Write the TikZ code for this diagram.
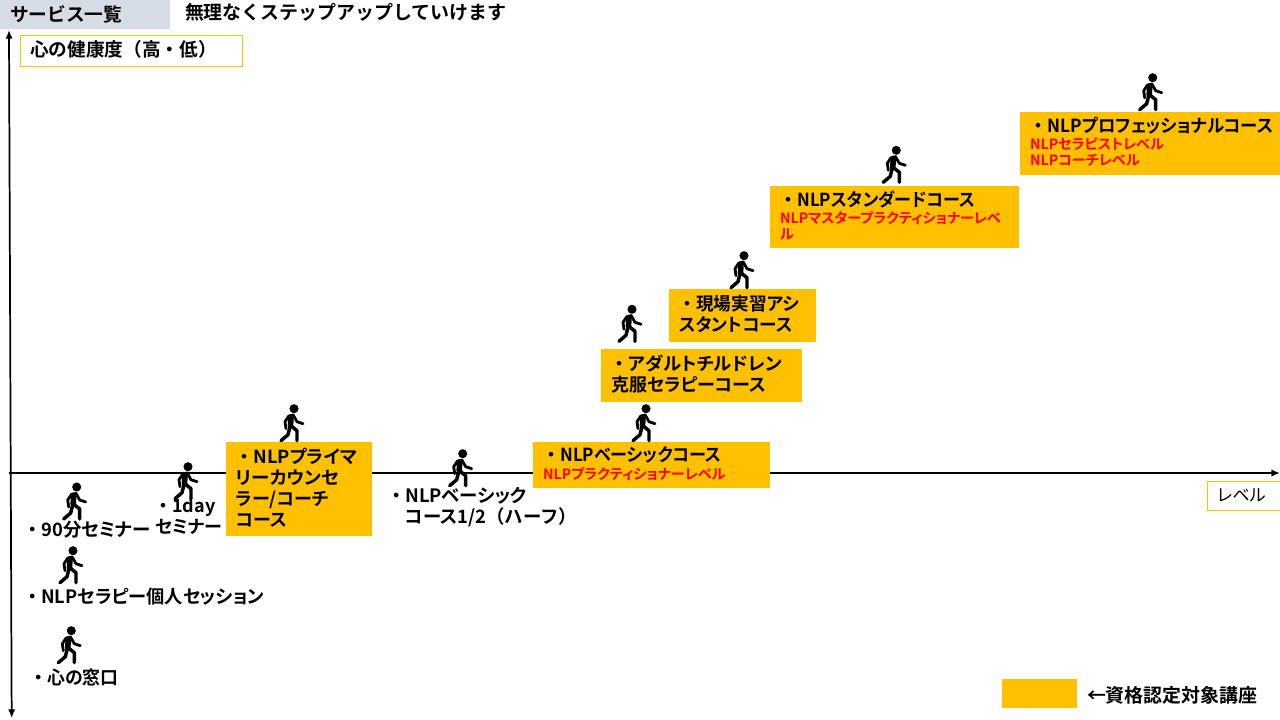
\documentclass[tikz,border=0pt]{standalone}
\usepackage{graphicx}
\usepackage{fontspec}
\usetikzlibrary{arrows.meta}
\setmainfont{Noto Sans CJK JP}[BoldFont=* Bold,RawFeature={+palt}]
\newfontfamily\plainjp{Noto Sans CJK JP}[RawFeature={+palt}]
\newfontfamily\fullw{Noto Sans CJK JP}[BoldFont=* Bold]
\definecolor{gold}{HTML}{FFC000}
\definecolor{slate}{HTML}{D6DCE5}
\newcommand{\nakaten}{\makebox[13pt][c]{・}}
\newcommand{\redline}[1]{{\fontsize{10.6}{12}\selectfont\color{red}#1}}
\newcommand{\squeezed}[2]{\scalebox{#1}[1]{#2}}
\tikzset{
  x=0.75pt,y=-0.75pt,
  body/.style={font=\fontsize{13.5}{15.8}\selectfont\bfseries,inner sep=0pt,outer sep=0pt,align=left,anchor=north west},
  widebody/.style={body,font=\fontsize{13.8}{15.8}\selectfont\bfseries},
  headbody/.style={body,font=\fontsize{14}{16}\selectfont\fullw\bfseries},
  largebody/.style={body,font=\fontsize{14.2}{16}\selectfont\fullw\bfseries},
  coursebox/.style n args={2}{body,fill=gold,anchor=north west,minimum width=#1*0.75pt,minimum height=#2*0.75pt,text width=#1*0.75pt-15pt,inner xsep=7.5pt,execute at end node={\par\vspace*{2pt}}},
  framebox/.style n args={2}{draw=gold,line width=0.75pt,fill=white,minimum width=#1*0.75pt,minimum height=#2*0.75pt,anchor=north west,inner sep=0pt,outer sep=0pt},
  walker/.pic={
    \fill (0,1) circle (3.4pt);
    \draw[line width=2.1pt,line cap=round,line join=round] (-1,7) -- (3,14) -- (9,16);
    \draw[line width=2.1pt,line cap=round,line join=round] (-5,8) -- (-9,14) -- (-8,21);
    \draw[line width=4.2pt,line cap=round] (-3,9) -- (-3.5,18);
    \draw[line width=2.6pt,line cap=round,line join=round] (-4,19) -- (-6,27) -- (-13,33);
    \draw[line width=2.6pt,line cap=round,line join=round] (-2,19) -- (3,23) -- (3,33);
  }
}
\begin{document}
\begin{tikzpicture}
\useasboundingbox (0,0) rectangle (1280,720);
% axes
\coordinate (ytop) at (9,30);
\coordinate (ybot) at (11.7,718);
\coordinate (xleft) at (9,473);
\coordinate (xright) at (1280,473);
\draw[line width=1.3pt,{Latex[length=6.5pt,width=5.5pt]}-{Latex[length=6.5pt,width=5.5pt]}] (ytop) -- (ybot);
\draw[line width=1.5pt,-{Latex[length=6.5pt,width=5.5pt]}] (xleft) -- (xright);
% header
\node[headbody,fill=slate,minimum width=127.5pt,minimum height=21.75pt,text width=112.5pt,inner xsep=7.5pt,anchor=north west] (title) at (0,0) {サービス一覧};
\node[largebody,anchor=west] (subtitle) at (185,12) {無理なくステップアップしていけます};
\node[framebox={222}{31.5}] (ylabel) at (20.5,35.5) {};
\node[headbody,anchor=west] (ylabeltext) at (30,49) {心の健康度（高・低）};
\node[framebox={73}{29.5}] (xlabel) at (1207.5,481.3) {};
\node[inner sep=0pt,anchor=west,font=\fontsize{12.8}{15.8}\selectfont\plainjp] (xlabeltext) at (1217,495) {レベル};
% plain labels
\node[widebody,anchor=west] (s90) at (24,530) {\nakaten 90分セミナー};
\node[body] (s1day) at (155,498) {\nakaten 1day\\セミナー};
\node[widebody,anchor=west] (sind) at (24,597) {\nakaten \squeezed{0.99}{NLPセラピー個人セッション}};
\node[widebody,anchor=west] (swin) at (30,677) {\nakaten \squeezed{0.97}{心の窓口}};
\node[widebody] (shalf) at (388,487) {\nakaten NLPベーシック\\\hspace*{13pt}コース1/2{\fullw（ハーフ）}};
% courses
\node[coursebox={146}{94}] (primary) at (226,442) {\nakaten \squeezed{1.02}{NLPプライマ}\\\squeezed{1.03}{リーカウンセ}\\ラー/コーチ\\コース};
\node[coursebox={237}{46}] (basic) at (533,442) {\nakaten \squeezed{0.947}{NLPベーシックコース}\\[-3pt]\redline{NLPプラクティショナーレベル}};
\node[coursebox={201}{53}] (adult) at (601,349) {\nakaten \squeezed{1.02}{アダルトチルドレン}\\\squeezed{1.0}{克服セラピーコース}};
\node[coursebox={147}{53}] (genba) at (669,289) {\nakaten \squeezed{0.98}{現場実習アシ}\\\squeezed{0.98}{スタントコース}};
\node[coursebox={249}{62}] (standard) at (770,186) {\nakaten \squeezed{0.947}{NLPスタンダードコース}\\[-3pt]\redline{NLPマスタープラクティショナーレベ}\\[-3.8pt]\redline{ル}};
\node[coursebox={260}{63}] (pro) at (1020,112) {\nakaten \squeezed{0.965}{NLPプロフェッショナルコース}\\[-3pt]\redline{NLPセラピストレベル}\\[-3.8pt]\redline{NLPコーチレベル}};
% legend
\node[fill=gold,minimum width=56.25pt,minimum height=21.75pt,inner sep=0pt,anchor=north west] (legend) at (1002,679) {};
\node[largebody,anchor=west] (legendtext) at (1087,695) {←資格認定対象講座};
% walkers
\foreach \wx/\wy in {1152.7/76.7,896.3/149.3,744/254.7,632/308.3,646/407.7,462.7/452.7,294/407.7,188/465.7,76.7/486,73/549.7,71.3/629.7}
  \pic at (\wx,\wy) {walker};
\end{tikzpicture}
\end{document}
